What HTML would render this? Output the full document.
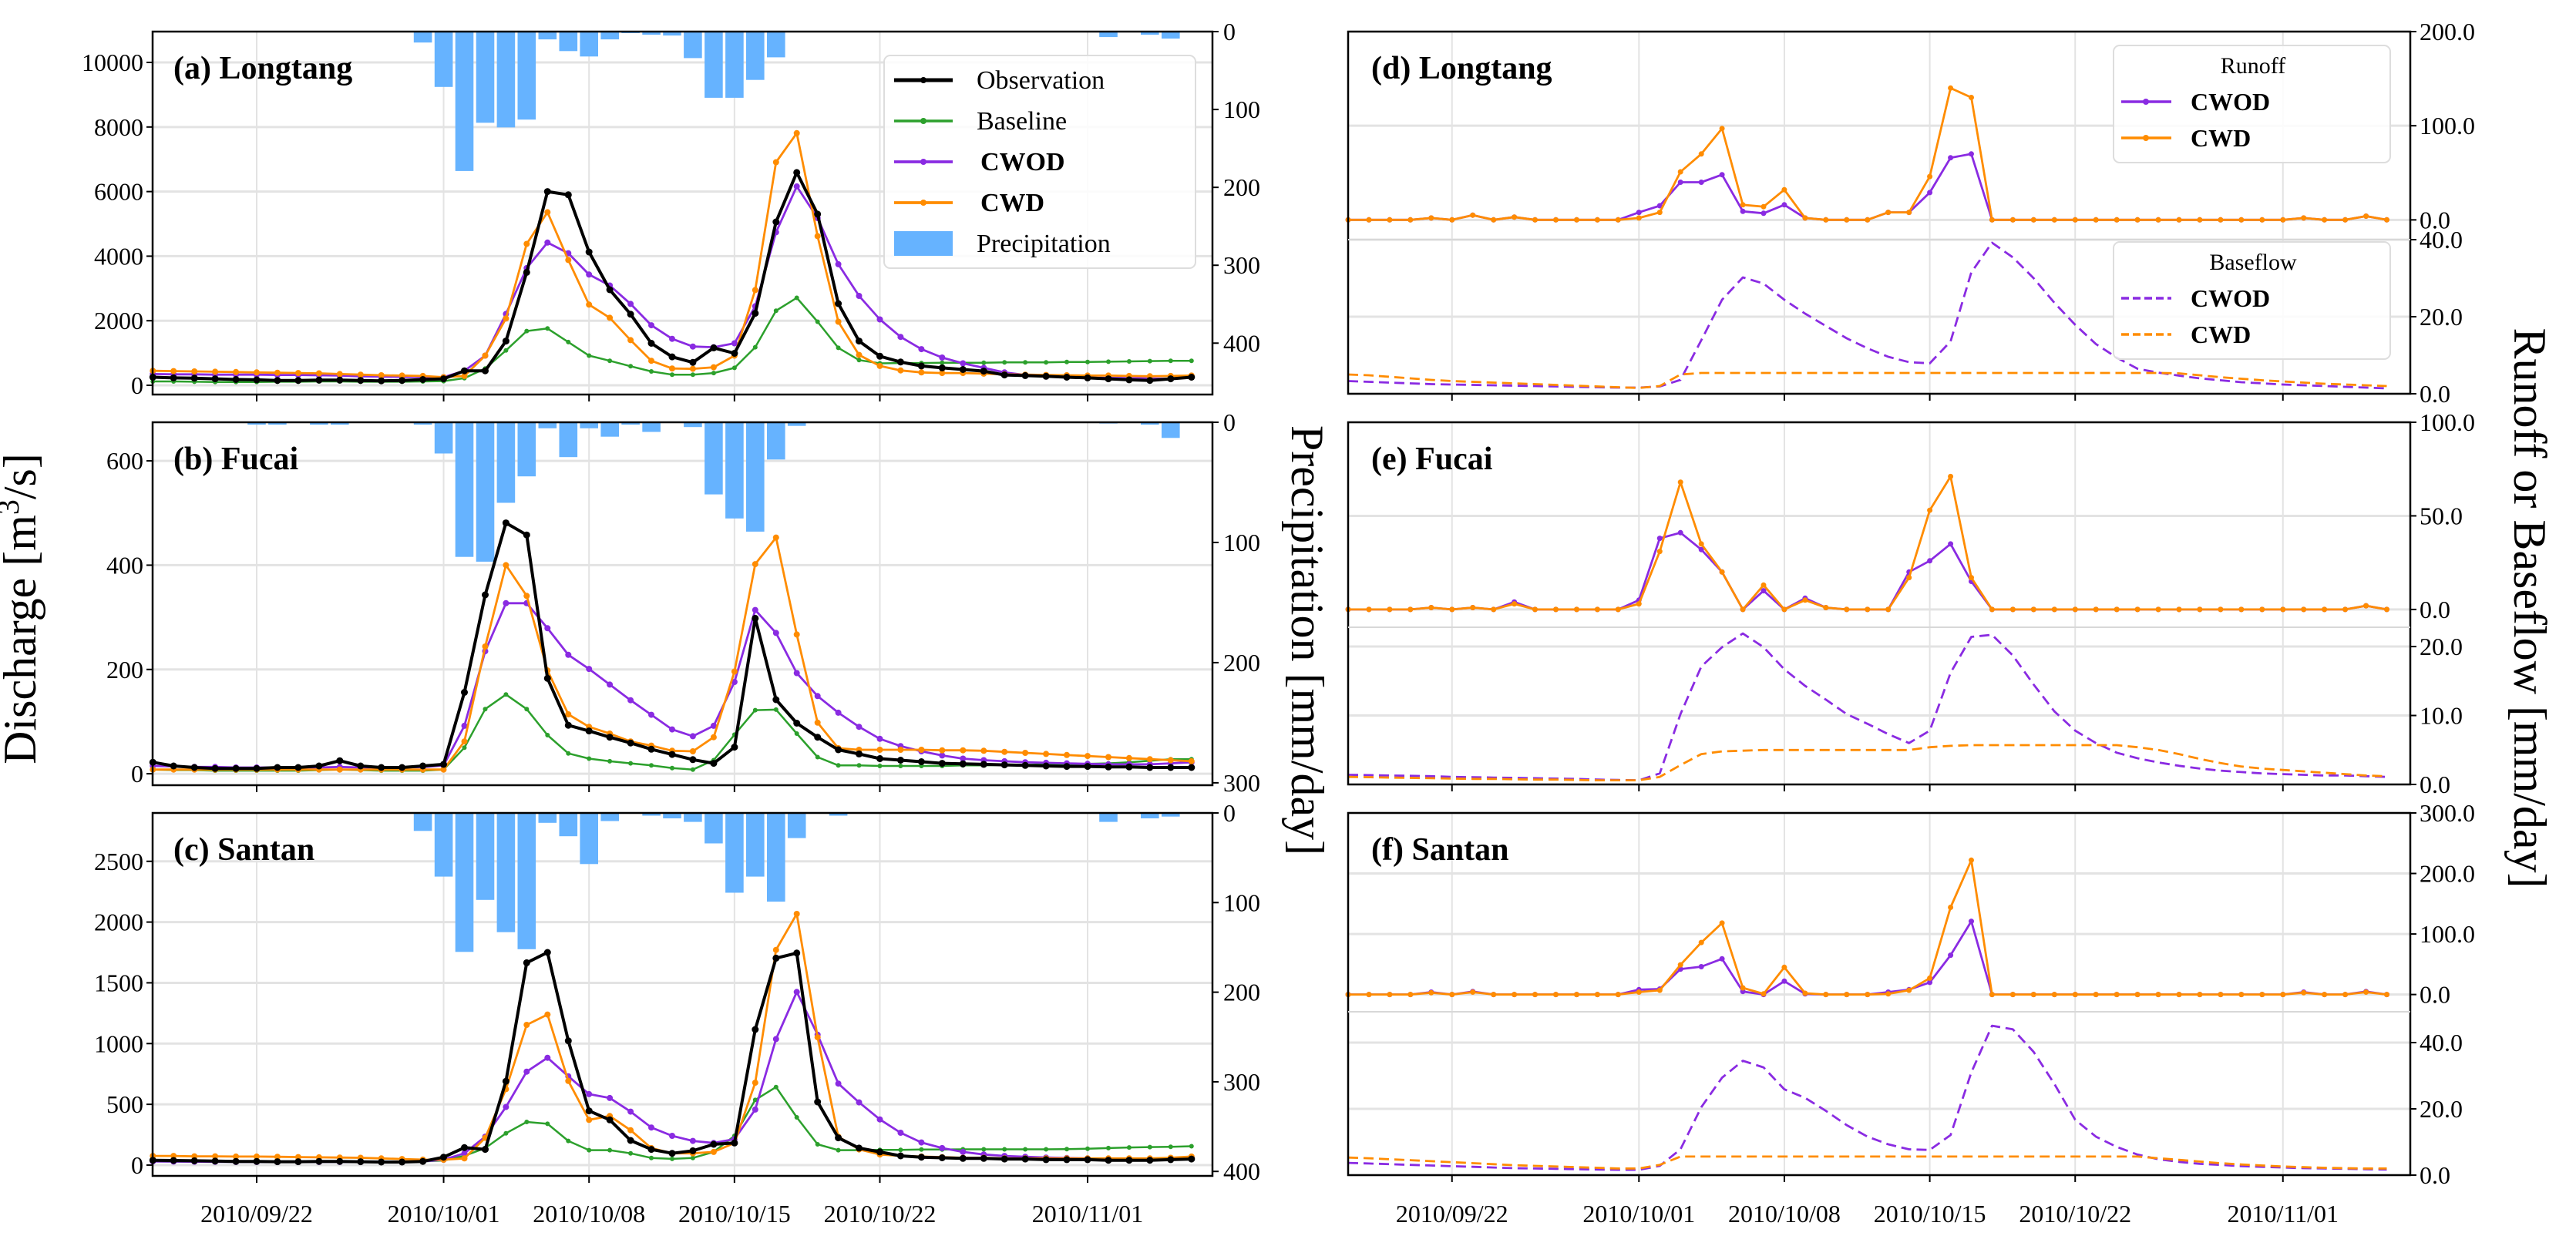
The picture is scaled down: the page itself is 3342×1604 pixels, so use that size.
<!DOCTYPE html>
<html><head><meta charset="utf-8">
<style>
html,body{margin:0;padding:0;background:#fff;}
svg{display:block;font-family:"Liberation Serif","DejaVu Serif",serif;}
</style></head>
<body>
<svg id="chart" xmlns="http://www.w3.org/2000/svg" width="3342" height="1604" viewBox="0 0 3342 1604">
<rect x="0" y="0" width="3342" height="1604" fill="#fff"/>
<g id="layer"></g>
<text x="0" y="0" transform="translate(46,790) rotate(-90)" text-anchor="middle" font-size="60">Discharge [m<tspan baseline-shift="super" font-size="40">3</tspan>/s]</text>
<text x="0" y="0" transform="translate(1676,831) rotate(90)" text-anchor="middle" font-size="60">Precipitation [mm/day]</text>
<text x="0" y="0" transform="translate(3262,789) rotate(90)" text-anchor="middle" font-size="60">Runoff or Baseflow [mm/day]</text>
</svg>
<script>
// ---------- data (day index 0 = 2010/09/17) ----------
const tickDays = [5, 14, 21, 28, 35, 45];
const tickLabels = ['2010/09/22','2010/10/01','2010/10/08','2010/10/15','2010/10/22','2010/11/01'];

const precipA = [0,0,0,0,0,0,0,0,0,0,0,1,1,14,71,179,117,123,113,10,25,32,10,2,4,5,34,85,85,62,33,0,1,0,0,0,0,0,0,0,0,0,0,0,0,0,7,0,4,9,0];
const obsA  = [250,230,220,200,180,170,150,150,160,160,150,140,150,180,200,450,450,1370,3500,6000,5900,4130,2960,2200,1300,880,710,1160,990,2230,5060,6590,5300,2530,1370,900,720,600,540,490,440,320,300,280,250,230,200,170,150,200,250];
const baseA = [120,120,110,100,100,100,110,110,120,120,110,110,110,120,130,220,520,1080,1680,1760,1340,920,760,590,430,330,330,380,540,1180,2310,2710,1970,1160,780,680,690,690,700,700,700,710,710,710,720,720,730,740,750,760,760];
const cwodA = [350,340,340,330,330,330,320,320,310,300,280,270,260,260,250,450,920,2210,3630,4420,4090,3430,3090,2520,1860,1440,1200,1180,1300,2450,4740,6160,5180,3750,2770,2040,1500,1120,860,680,540,400,320,270,250,240,230,220,210,200,250];
const cwdA  = [450,440,430,420,410,400,390,380,370,350,330,310,300,290,250,290,920,2070,4380,5360,3880,2500,2090,1400,760,520,510,560,920,2950,6910,7810,4620,1970,940,600,460,400,380,380,360,340,330,320,310,300,300,290,280,290,300];

const precipB = [0,0,0,0,0,2,2,0,2,2,0,0,0,2,26,112,116,67,45,5,29,5,12,2,8,0,4,60,80,91,31,3,0,0,0,0,0,0,0,0,0,0,0,0,0,0,1,0,2,13,0];
const obsB  = [22,15,12,10,10,10,12,12,15,25,15,12,12,15,18,156,343,481,458,183,93,82,70,59,47,37,27,20,51,298,142,97,70,46,38,29,26,23,20,19,18,17,16,15,14,14,13,13,12,12,12];
const baseB = [8,7,7,6,6,6,6,6,7,8,7,6,6,6,8,50,124,152,124,74,39,29,24,20,16,11,8,26,75,122,123,77,32,16,16,15,15,15,15,16,16,17,17,18,18,19,20,22,25,28,28];
const cwodB = [15,14,13,13,12,12,12,12,12,13,12,12,12,13,16,92,235,327,327,279,228,201,171,141,113,85,72,92,176,314,270,193,149,117,90,67,53,43,35,29,26,24,22,21,20,19,18,18,18,20,22];
const cwdB  = [8,8,8,8,8,8,8,8,8,8,8,8,8,8,8,62,244,400,341,198,114,90,77,62,54,44,43,70,196,402,453,267,98,49,46,46,46,46,45,45,44,42,40,38,36,34,32,30,28,26,24];

const precipC = [0,0,0,0,0,0,0,0,0,0,0,0,0,20,71,155,97,133,152,11,26,57,9,0,3,6,10,34,89,71,99,28,0,3,0,0,0,0,0,0,0,0,0,0,0,0,10,0,6,4,0];
const obsC  = [40,38,35,33,30,30,28,28,30,30,28,25,25,30,65,144,129,690,1665,1750,1023,446,372,203,129,97,118,171,182,1116,1703,1745,520,224,140,108,76,65,60,55,55,50,50,45,45,45,40,40,40,45,50];
const baseC = [30,28,27,26,25,25,24,24,25,25,24,24,24,30,38,76,140,262,355,340,199,123,123,97,59,51,59,108,241,536,642,393,171,123,123,125,125,128,128,130,130,130,130,130,132,135,140,145,148,150,155];
const cwodC = [30,29,28,27,26,26,25,25,26,26,25,25,25,30,44,97,234,478,769,883,731,584,552,440,309,241,199,182,214,457,1037,1425,1073,671,516,376,266,186,140,108,87,75,68,62,58,55,52,50,50,55,65];
const cwdC  = [75,75,72,72,70,70,68,66,64,62,60,55,50,45,44,55,224,625,1154,1239,692,372,404,287,140,97,97,108,182,678,1771,2067,1052,234,129,87,76,70,65,60,60,55,55,55,55,55,55,55,55,60,70];

const runoffCwodD = [0,0,0,0,2,0,5,0,3,0,0,0,0,0,8,15,40,40,48,9,7,16,2,0,0,0,8,8,29,66,70,0,0,0,0,0,0,0,0,0,0,0,0,0,0,0,2,0,0,4,0];
const runoffCwdD  = [0,0,0,0,2,0,5,0,3,0,0,0,0,0,2,8,51,70,97,16,14,32,2,0,0,0,8,8,46,140,130,0,0,0,0,0,0,0,0,0,0,0,0,0,0,0,2,0,0,4,0];
const baseCwodD = [3.3,3.1,2.9,2.7,2.5,2.4,2.3,2.2,2.1,2.0,1.9,1.8,1.7,1.6,1.6,1.9,3.6,13.9,24.4,30.2,28.6,24.4,20.8,17.6,14.4,11.8,9.6,8.2,7.9,13.6,31.5,39.2,35.4,30,23.6,17.9,12.9,9.4,6.5,5.5,4.7,4.0,3.5,3.0,2.7,2.4,2.2,2.0,1.8,1.6,1.4];
const baseCwdD  = [5,4.8,4.4,4.0,3.6,3.3,3.1,2.9,2.7,2.5,2.3,2.1,1.9,1.7,1.5,2,5,5.4,5.4,5.4,5.4,5.4,5.4,5.4,5.4,5.4,5.4,5.4,5.4,5.4,5.4,5.4,5.4,5.4,5.4,5.4,5.4,5.4,5.4,5.4,5.3,4.8,4.3,3.9,3.5,3.2,2.9,2.6,2.4,2.2,2.0];

const runoffCwodE = [0,0,0,0,1,0,1,0,4,0,0,0,0,0,5,38,41,32,20,0,10,0,6,1,0,0,0,20,26,35,15,0,0,0,0,0,0,0,0,0,0,0,0,0,0,0,0,0,0,2,0];
const runoffCwdE  = [0,0,0,0,1,0,1,0,3,0,0,0,0,0,3,31,68,35,20,0,13,0,5,1,0,0,0,17,53,71,17,0,0,0,0,0,0,0,0,0,0,0,0,0,0,0,0,0,0,2,0];
const baseCwodE = [1.4,1.35,1.3,1.25,1.2,1.1,1.05,1.0,0.95,0.9,0.85,0.8,0.7,0.65,0.6,1.6,10.2,17.1,19.9,21.9,19.9,16.7,14.3,12.3,10.2,8.8,7.3,6.0,7.8,16.2,21.4,21.7,18.7,14.5,10.6,7.8,6.0,4.6,3.8,3.2,2.7,2.3,2.0,1.8,1.6,1.5,1.4,1.3,1.3,1.2,1.1];
const baseCwdE  = [1.1,1.05,1.0,0.95,0.9,0.85,0.8,0.8,0.75,0.7,0.7,0.65,0.6,0.6,0.6,1.1,2.8,4.4,4.8,4.9,5.0,5.0,5.0,5.0,5.0,5.0,5.0,5.0,5.4,5.6,5.7,5.7,5.7,5.7,5.7,5.7,5.7,5.7,5.4,5.0,4.4,3.7,3.1,2.6,2.3,2.1,1.9,1.7,1.5,1.3,1.2];

const runoffCwodF = [0,0,0,0,4,0,5,0,0,0,0,0,0,0,8,9,42,46,59,5,0,22,1,0,0,0,4,8,20,65,121,0,0,0,0,0,0,0,0,0,0,0,0,0,0,0,4,0,0,5,0];
const runoffCwdF  = [0,0,0,0,3,0,4,0,0,0,0,0,0,0,4,7,49,86,118,11,1,45,2,0,0,0,1,7,27,144,222,0,0,0,0,0,0,0,0,0,0,0,0,0,0,0,3,0,0,4,0];
const baseCwodF = [3.7,3.5,3.3,3.1,2.9,2.7,2.5,2.3,2.1,2.0,1.9,1.8,1.7,1.6,1.6,2.8,7.8,20.5,29.4,34.5,32.5,25.9,23.3,19.4,15.1,11.6,9.3,7.8,7.6,12.1,31,45.1,44,37.2,27.5,16.7,11.6,8.5,6.2,4.8,4.0,3.4,3.1,2.7,2.5,2.3,2.1,2.0,1.9,1.8,1.7];
const baseCwdF  = [5.3,5.1,4.8,4.5,4.2,3.9,3.6,3.3,3.0,2.8,2.6,2.4,2.2,2.0,2.0,3.1,5.6,5.6,5.6,5.6,5.6,5.6,5.6,5.6,5.6,5.6,5.6,5.6,5.6,5.6,5.6,5.6,5.6,5.6,5.6,5.6,5.6,5.6,5.6,5.1,4.6,4.1,3.6,3.2,2.9,2.6,2.4,2.2,2.1,2.0,2.0];

// ---------- drawing ----------
const NS = 'http://www.w3.org/2000/svg';
const layer = document.getElementById('layer');
const DX = 26.95;
const C = {obs:'#000000', base:'#2ca02c', cwod:'#8a2be2', cwd:'#ff8c00', prec:'#66b3ff', grid:'#e3e3e3'};
function mk(tag, attrs, parent){
  const el = document.createElementNS(NS, tag);
  for (const k in attrs) el.setAttribute(k, attrs[k]);
  (parent || layer).appendChild(el);
  return el;
}
function txt(x, y, s, size, anchor, weight, parent){
  const el = mk('text', {x:x, y:y, 'font-size':size, 'text-anchor':anchor||'start', 'font-weight':weight||'normal', fill:'#000'}, parent);
  el.textContent = s;
  return el;
}
function drawSeries(vals, xf, yf, color, w, r, dash, name){
  const pts = vals.map((v,i)=>xf(i).toFixed(1)+','+yf(v).toFixed(1)).join(' ');
  const pl = mk('polyline', {points:pts, fill:'none', stroke:color, 'stroke-width':w, 'stroke-linejoin':'round', 'stroke-dasharray':dash||'none'});
  
  
  if (r > 0) {
    vals.forEach((v,i)=>{
      const c = mk('circle', {cx:xf(i).toFixed(1), cy:yf(v).toFixed(1), r:r, fill:color});
      
      
    });
  }
}

// ----- left panels -----
const X0L = 198.25, XL1 = 198, XL2 = 1573;
const leftPanels = [
  {top:41, bot:512, ymin:-286, ymax:10955, yt:[0,2000,4000,6000,8000,10000], pmax:466, pt:[0,100,200,300,400], label:'(a) Longtang', id:'a',
   p:precipA, obs:obsA, base:baseA, cwod:cwodA, cwd:cwdA},
  {top:548, bot:1019, ymin:-22, ymax:674, yt:[0,200,400,600], pmax:302, pt:[0,100,200,300], label:'(b) Fucai', id:'b',
   p:precipB, obs:obsB, base:baseB, cwod:cwodB, cwd:cwdB},
  {top:1055, bot:1526, ymin:-89, ymax:2898, yt:[0,500,1000,1500,2000,2500], pmax:405, pt:[0,100,200,300,400], label:'(c) Santan', id:'c',
   p:precipC, obs:obsC, base:baseC, cwod:cwodC, cwd:cwdC}
];
const xL = d => X0L + d*DX;
leftPanels.forEach((P, pi)=>{
  const yf = v => P.bot - (v - P.ymin)/(P.ymax - P.ymin)*(P.bot - P.top);
  const pf = v => P.top + v/P.pmax*(P.bot - P.top);
  const g = mk('g', {});
  
  
  P.yt.forEach(t=>{ mk('line', {x1:XL1, x2:XL2, y1:yf(t), y2:yf(t), stroke:C.grid, 'stroke-width':3}, g); });
  tickDays.forEach(d=>{ mk('line', {x1:xL(d), x2:xL(d), y1:P.top, y2:P.bot, stroke:C.grid, 'stroke-width':2}, g); });
  P.p.forEach((v,i)=>{
    if (v <= 0) return;
    const b = mk('rect', {x:(xL(i)-11.8).toFixed(1), y:P.top, width:23.6, height:(pf(v)-P.top).toFixed(1), fill:C.prec});
    
    
  });
  drawSeries(P.base, xL, yf, C.base, 2.5, 3, null, 'baseline-' + P.id);
  drawSeries(P.cwod, xL, yf, C.cwod, 2.8, 4, null, 'cwod-' + P.id);
  drawSeries(P.cwd, xL, yf, C.cwd, 2.8, 4, null, 'cwd-' + P.id);
  drawSeries(P.obs, xL, yf, C.obs, 4, 4.5, null, 'observation-' + P.id);
  const fr = mk('rect', {x:XL1, y:P.top, width:XL2-XL1, height:P.bot-P.top, fill:'none', stroke:'#000', 'stroke-width':2.5});
  
  
  P.yt.forEach(t=>{
    mk('line', {x1:XL1-8, x2:XL1, y1:yf(t), y2:yf(t), stroke:'#000', 'stroke-width':2});
    const l = txt(XL1-12, yf(t)+11, String(t), 32, 'end');
    
    
  });
  P.pt.forEach(t=>{
    mk('line', {x1:XL2, x2:XL2+8, y1:pf(t), y2:pf(t), stroke:'#000', 'stroke-width':2});
    const l = txt(XL2+14, pf(t)+11, String(t), 32, 'start');
    
    
  });
  tickDays.forEach((d,k)=>{
    mk('line', {x1:xL(d), x2:xL(d), y1:P.bot, y2:P.bot+9, stroke:'#000', 'stroke-width':2});
    if (pi === 2) {
      const l = txt(xL(d), 1586, tickLabels[k], 32, 'middle');
      
      
    }
  });
  const pl = txt(225, P.top + 61, P.label, 42, 'start', 'bold');
  
  
});

(function(){
  const lg = mk('g', {});
  
  
  mk('rect', {x:1147, y:72, width:404, height:276, rx:8, fill:'#fff', 'fill-opacity':0.85, stroke:'#dddddd', 'stroke-width':2}, lg);
  const items = [['Observation', C.obs, 'normal', 4], ['Baseline', C.base, 'normal', 2.5], ['CWOD', C.cwod, 'bold', 2.8], ['CWD', C.cwd, 'bold', 2.8]];
  items.forEach((it, k)=>{
    const y = 104 + k*53;
    mk('line', {x1:1160, x2:1236, y1:y, y2:y, stroke:it[1], 'stroke-width':it[3]+1}, lg);
    mk('circle', {cx:1198, cy:y, r:4, fill:it[1]}, lg);
    const t = txt(it[2]==='bold'?1272:1267, y+11, it[0], 34, 'start', it[2], lg);
    
    
  });
  mk('rect', {x:1160, y:300, width:76, height:32, fill:C.prec}, lg);
  const t = txt(1267, 327, 'Precipitation', 34, 'start', 'normal', lg);
  
  
})();

// ----- right panels -----
const X0R = 1749, XR1 = 1749, XR2 = 3127;
const xR = d => X0R + d*DX;
const rightPanels = [
  {top:41, split:311, bot:511, rmin:-21, rmax:200, rt:[0,100,200], bmax:40, bt:[0,20,40], label:'(d) Longtang', id:'d',
   ro:runoffCwodD, rd:runoffCwdD, bo:baseCwodD, bd:baseCwdD},
  {top:548, split:814, bot:1018, rmin:-9.5, rmax:100, rt:[0,50,100], bmax:22.8, bt:[0,10,20], label:'(e) Fucai', id:'e',
   ro:runoffCwodE, rd:runoffCwdE, bo:baseCwodE, bd:baseCwdE},
  {top:1055, split:1313, bot:1525, rmin:-28.5, rmax:300, rt:[0,100,200,300], bmax:49.3, bt:[0,20,40], label:'(f) Santan', id:'f',
   ro:runoffCwodF, rd:runoffCwdF, bo:baseCwodF, bd:baseCwdF}
];
rightPanels.forEach((P, pi)=>{
  const rf = v => P.split - (v - P.rmin)/(P.rmax - P.rmin)*(P.split - P.top);
  const bf = v => P.bot - v/P.bmax*(P.bot - P.split);
  const g = mk('g', {});
  
  
  P.rt.forEach(t=>{ mk('line', {x1:XR1, x2:XR2, y1:rf(t), y2:rf(t), stroke:C.grid, 'stroke-width':3}, g); });
  P.bt.forEach(t=>{ mk('line', {x1:XR1, x2:XR2, y1:bf(t), y2:bf(t), stroke:C.grid, 'stroke-width':3}, g); });
  tickDays.forEach(d=>{ mk('line', {x1:xR(d), x2:xR(d), y1:P.top, y2:P.bot, stroke:C.grid, 'stroke-width':2}, g); });
  drawSeries(P.bo, xR, bf, C.cwod, 2.8, 0, '13,7', 'baseflow-cwod-' + P.id);
  drawSeries(P.bd, xR, bf, C.cwd, 2.8, 0, '13,7', 'baseflow-cwd-' + P.id);
  drawSeries(P.ro, xR, rf, C.cwod, 2.8, 3.5, null, 'runoff-cwod-' + P.id);
  drawSeries(P.rd, xR, rf, C.cwd, 2.8, 3.5, null, 'runoff-cwd-' + P.id);
  const fr = mk('rect', {x:XR1, y:P.top, width:XR2-XR1, height:P.bot-P.top, fill:'none', stroke:'#000', 'stroke-width':2.5});
  
  
  mk('line', {x1:XR1, x2:XR2, y1:P.split, y2:P.split, stroke:'#d8d8d8', 'stroke-width':2});
  P.rt.forEach(t=>{
    mk('line', {x1:XR2, x2:XR2+8, y1:rf(t), y2:rf(t), stroke:'#000', 'stroke-width':2});
    const l = txt(XR2+12, rf(t)+11, t.toFixed(1), 32, 'start');
    
    
  });
  P.bt.forEach(t=>{
    mk('line', {x1:XR2, x2:XR2+8, y1:bf(t), y2:bf(t), stroke:'#000', 'stroke-width':2});
    const l = txt(XR2+12, bf(t)+11, t.toFixed(1), 32, 'start');
    
    
  });
  tickDays.forEach((d,k)=>{
    mk('line', {x1:xR(d), x2:xR(d), y1:P.bot, y2:P.bot+9, stroke:'#000', 'stroke-width':2});
    if (pi === 2) {
      const l = txt(xR(d), 1586, tickLabels[k], 32, 'middle');
      
      
    }
  });
  const pl = txt(1779, P.top + 61, P.label, 42, 'start', 'bold');
  
  
});

function smallLegend(y0, title, dashed, nm){
  const lg = mk('g', {});
  
  
  mk('rect', {x:2742, y:y0, width:359, height:152, rx:8, fill:'#fff', 'fill-opacity':0.85, stroke:'#dddddd', 'stroke-width':2}, lg);
  txt(2923, y0+36, title, 30, 'middle', 'normal', lg);
  [['CWOD', C.cwod], ['CWD', C.cwd]].forEach((it,k)=>{
    const y = y0 + 73 + k*47;
    mk('line', {x1:2752, x2:2817, y1:y, y2:y, stroke:it[1], 'stroke-width':3.5, 'stroke-dasharray':dashed?'10,5':'none'}, lg);
    if (!dashed) mk('circle', {cx:2784, cy:y, r:4, fill:it[1]}, lg);
    const t = txt(2842, y+11, it[0], 32, 'start', 'bold', lg);
    
    
  });
}
smallLegend(59, 'Runoff', false, 'runoff-legend');
smallLegend(314, 'Baseflow', true, 'baseflow-legend');
</script>
</body></html>
